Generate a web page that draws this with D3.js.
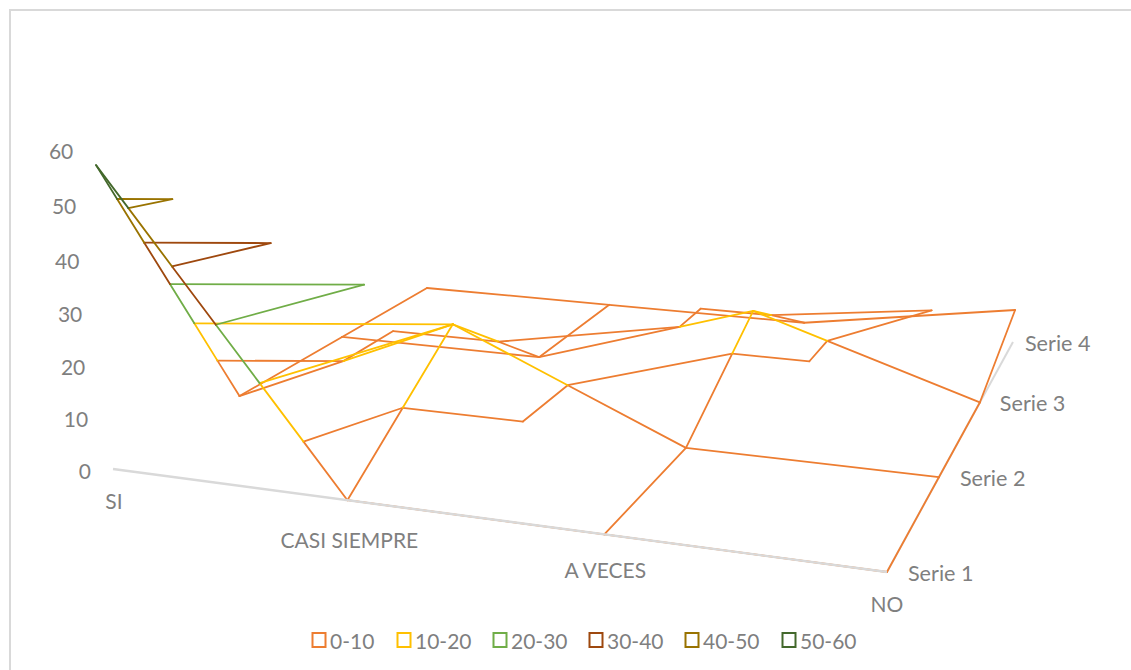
<!DOCTYPE html>
<html>
<head>
<meta charset="utf-8">
<script src="https://cdn.jsdelivr.net/npm/d3@7/dist/d3.min.js"></script>
<style>
html,body{margin:0;padding:0;background:#fff;overflow:hidden}
text{font-family:Lato,"Open Sans",sans-serif;fill:#7f7f7f}
</style>
</head>
<body>
<svg id="chart" width="1131" height="670"></svg>
<script>
const categories = ["SI", "CASI SIEMPRE", "A VECES", "NO"];
const seriesNames = ["Serie 1", "Serie 2", "Serie 3", "Serie 4"];
const serie1 = [57.4, 0, 0, 0];
const serie2 = [0, 20, 0, 0];
const serie3 = [0, 0, 15, 0];
const serie4 = [0, 0, 0, 7.5];
const valueTicks = [0, 10, 20, 30, 40, 50, 60];
const bandLabels = ["0-10", "10-20", "20-30", "30-40", "40-50", "50-60"];
const bandColors = ["#ED7D31", "#FFC000", "#70AD47", "#9E480E", "#997300", "#43682B"];

const grid = [serie1, serie2, serie3, serie4];

const svg = d3.select("#chart");
const FONT = 21;

// Perspective camera: maps (category, series, value) to the page.
const uScale = d3.scaleLinear().domain([0, categories.length - 1]).range([0, 1]);
const vScale = d3.scaleLinear().domain([0, seriesNames.length - 1]).range([0, 1]);
const cam = {a: 657.7, b: 463, c: 113, d: 28, e: -80.5, f: 469, g: -0.1311, h: 0.349, k: -0.0007, p: -0.3625, q: -5.41};
function project(i, j, z) {
  const u = uScale(i), v = vScale(j);
  const w = 1 + cam.g * u + cam.h * v + cam.k * z;
  return [(cam.a * u + cam.b * v + cam.p * z + cam.c) / w,
          (cam.d * u + cam.e * v + cam.q * z + cam.f) / w];
}
const line = d3.line().x(d => d[0]).y(d => d[1]);

// Frame: top and left only
svg.append("path")
  .attr("d", "M10,670V10H1131")
  .attr("fill", "none").attr("stroke", "#d9d9d9").attr("stroke-width", 2);

const lastCol = categories.length - 1, lastRow = seriesNames.length - 1;

// Depth axis sits under the wires
svg.append("path").attr("fill", "none").attr("stroke", "#d9d9d9").attr("stroke-width", 2)
  .attr("d", line([project(lastCol, 0, 0), project(lastCol, lastRow, 0)]));

// Wire segments grouped by band
const levels = d3.range(10, 60, 10);
const segments = bandColors.map(() => []);
const bandOf = z => Math.min(bandColors.length - 1, Math.floor(z / 10));
const node = (i, j) => ({i, j, z: grid[j][i]});

function drawEdge(a, b) {
  const cuts = levels.filter(L => L > Math.min(a.z, b.z) && L < Math.max(a.z, b.z));
  const ts = [0, ...cuts.map(L => (L - a.z) / (b.z - a.z)).sort(d3.ascending), 1];
  for (let n = 0; n < ts.length - 1; n++) {
    const p = t => [a.i + (b.i - a.i) * t, a.j + (b.j - a.j) * t, a.z + (b.z - a.z) * t];
    const s = p(ts[n]), e = p(ts[n + 1]);
    segments[bandOf((s[2] + e[2]) / 2)].push([project(...s), project(...e)]);
  }
}
function crossing(a, b, L) {
  const lo = a.z < b.z ? a : b, hi = a.z < b.z ? b : a;
  if (!(lo.z < L && hi.z >= L)) return null;
  const t = (L - lo.z) / (hi.z - lo.z);
  return project(lo.i + (hi.i - lo.i) * t, lo.j + (hi.j - lo.j) * t, L);
}
function contour(t) {
  levels.forEach(L => {
    const pts = [[t[0], t[1]], [t[1], t[2]], [t[2], t[0]]]
      .map(([a, b]) => crossing(a, b, L)).filter(Boolean);
    if (pts.length === 2) segments[bandOf(L - 5)].push(pts);
  });
}

for (let j = 0; j <= lastRow; j++) {
  for (let i = 0; i <= lastCol; i++) {
    if (i < lastCol) drawEdge(node(i, j), node(i + 1, j));
    if (j < lastRow) drawEdge(node(i, j), node(i, j + 1));
    if (i < lastCol && j < lastRow) {
      const n00 = node(i, j), n10 = node(i + 1, j), n01 = node(i, j + 1), n11 = node(i + 1, j + 1);
      // Each cell folds along the diagonal carrying the higher values.
      if (n00.z + n11.z >= n10.z + n01.z) {
        contour([n00, n11, n10]); contour([n00, n11, n01]);
      } else {
        contour([n10, n01, n00]); contour([n10, n01, n11]);
      }
    }
  }
}
bandColors.forEach((color, b) => {
  svg.append("g").attr("fill", "none").attr("stroke", color).attr("stroke-width", 1.8)
    .attr("stroke-linejoin", "round").attr("stroke-linecap", "round")
    .selectAll("path").data(segments[b]).join("path").attr("d", line);
});

// Front axis sits over the wires
svg.append("path").attr("fill", "none").attr("stroke", "#d9d9d9").attr("stroke-width", 2.4)
  .attr("d", line([project(0, 0, 0), project(lastCol, 0, 0)]));

// Value labels
svg.append("g").selectAll("text").data(valueTicks).join("text")
  .attr("x", d => project(0, 0, d)[0] - 22)
  .attr("y", d => project(0, 0, d)[1] + 1 - d * 0.0175)
  .attr("text-anchor", "end").attr("dominant-baseline", "central")
  .attr("font-size", FONT).text(d => d);

// Category labels
const catLabelDy = [31, 39, 35, 32];
const catLabelDx = [1, 2, 1, 0];
svg.append("g").selectAll("text").data(categories).join("text")
  .attr("x", (d, i) => project(i, 0, 0)[0] + catLabelDx[i])
  .attr("y", (d, i) => project(i, 0, 0)[1] + catLabelDy[i])
  .attr("text-anchor", "middle").attr("dominant-baseline", "central")
  .attr("font-size", FONT).text(d => d);

// Series labels
const seriesLabelDx = [21, 21, 20, 12];
svg.append("g").selectAll("text").data(seriesNames).join("text")
  .attr("x", (d, j) => project(lastCol, j, 0)[0] + seriesLabelDx[j])
  .attr("y", (d, j) => project(lastCol, j, 0)[1] + 1)
  .attr("dominant-baseline", "central")
  .attr("font-size", 21.6).text(d => d);

// Legend
const legendX = [312, 397, 493, 589, 685, 782];
const legend = svg.append("g").selectAll("g").data(bandLabels).join("g")
  .attr("transform", (d, i) => `translate(${legendX[i]},640)`);
legend.append("rect").attr("x", 0.5).attr("y", -7).attr("width", 13).attr("height", 14)
  .attr("fill", "#fff").attr("stroke", (d, i) => bandColors[i]).attr("stroke-width", 2);
legend.append("text").attr("x", 18)
  .attr("dominant-baseline", "central")
  .attr("font-size", FONT).text(d => d);
</script>
</body>
</html>
